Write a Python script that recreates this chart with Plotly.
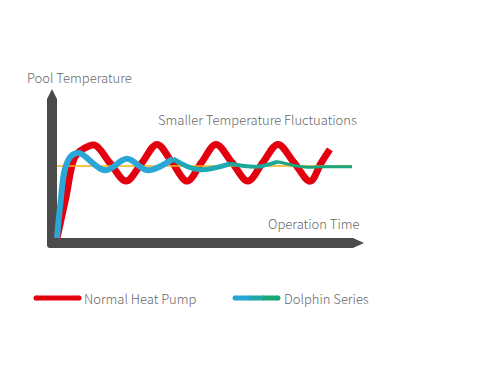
import plotly.graph_objects as go

# ---------------- data (time units vs temperature units) ----------------
normal_time = [0, 0.30, 0.61, 0.90, 1.28, 1.80, 2.34, 2.87, 3.39, 3.90, 4.41, 4.90,
               5.39, 5.93, 6.47, 6.98, 7.49, 8.03, 8.58, 8.95, 9.25]
normal_temp = [0, 5.6, 11.3, 12.4, 12.9, 10.4, 7.9, 10.4, 13.0, 10.5, 7.9, 10.5,
               13.0, 10.5, 7.9, 10.5, 13.0, 10.5, 7.9, 10.4, 12.3]

dolphin_time = [0, 0.12, 0.27, 0.48, 0.75, 1.63, 2.37, 3.08, 3.93, 4.78,
                5.86, 6.78, 7.49, 8.40, 9.02, 10.0]
dolphin_temp = [0, 5.0, 9.6, 11.4, 11.8, 9.4, 11.0, 9.4, 11.0, 9.5,
                10.3, 9.9, 10.6, 9.85, 9.9, 9.9]

setpoint_time = [0, 10]
setpoint_temp = [10, 10]

# segment boundaries (indices into dolphin arrays) for the blue->green gradient
segment_breaks = [0, 8, 10, 12, 15]
segment_colors = ["#2aa7d7", "#21a8b5", "#1ca798", "#1aa57d"]
segment_widths = [6, 5, 4, 3]

labels = {
    "y": "Pool Temperature",
    "x": "Operation Time",
    "note": "Smaller Temperature Fluctuations",
    "normal": "Normal Heat Pump",
    "dolphin": "Dolphin Series",
}

# ---------------- layout geometry ----------------
OFF = 8                      # default body margin of the html page
W, H = 500 - OFF, 375 - 2 * OFF
X0PX, XSCALE = 57, 29.5      # pixel of t=0, pixels per time unit
Y0PX, YSCALE = 238, 7.2      # pixel of T=0, pixels per temp unit


def tx(px):
    return (px - X0PX) / XSCALE


def ty(py):
    return (Y0PX - py) / YSCALE


FONT = "Noto Sans CJK SC"
TEXT_COLOR = "#676767"
RED = "#e3000f"
AXIS = "#4b4b4b"

fig = go.Figure()

fig.add_trace(go.Scatter(x=normal_time, y=normal_temp, mode="lines",
                         line=dict(color=RED, width=7, shape="spline", smoothing=1.0),
                         hoverinfo="skip", showlegend=False))
fig.add_trace(go.Scatter(x=setpoint_time, y=setpoint_temp, mode="lines",
                         line=dict(color="#f2b316", width=1.5),
                         hoverinfo="skip", showlegend=False))
for i in range(len(segment_colors)):
    a, b = segment_breaks[i], segment_breaks[i + 1]
    fig.add_trace(go.Scatter(x=dolphin_time[a:b + 1], y=dolphin_temp[a:b + 1], mode="lines",
                             line=dict(color=segment_colors[i], width=segment_widths[i],
                                       shape="spline", smoothing=1.0),
                             hoverinfo="skip", showlegend=False))

# axes with arrows drawn as one path
pts = [("M", 47, 99), ("L", 47, 245), ("Q", 47, 248, 50, 248), ("L", 353, 248), ("L", 364, 243),
       ("L", 353, 238), ("L", 57, 238), ("L", 57, 99), ("L", 52, 89)]
path = ""
for p in pts:
    if p[0] == "Q":
        path += f"Q{tx(p[1])},{ty(p[2])} {tx(p[3])},{ty(p[4])} "
    else:
        path += f"{p[0]}{tx(p[1])},{ty(p[2])} "
path += "Z"
shapes = [dict(type="path", path=path, xref="x", yref="y", fillcolor=AXIS,
               line=dict(width=0), layer="below")]

# legend swatches
def swatch(x1, x2, y, color, width=5):
    shapes.append(dict(type="line", xref="x", yref="y", x0=tx(x1), x1=tx(x2), y0=ty(y), y1=ty(y),
                       line=dict(color=color, width=width)))

swatch(36, 79, 298, RED)
swatch(235, 250, 298, "#29a6d6")
swatch(249, 264, 298, "#20a8a8")
swatch(263, 278, 298, "#1aa676")
for cx, col in [(36, RED), (79, RED), (235, "#29a6d6"), (278, "#1aa676")]:
    r = 2.5
    shapes.append(dict(type="circle", xref="x", yref="y", x0=tx(cx - r), x1=tx(cx + r),
                       y0=ty(298 + r), y1=ty(298 - r), fillcolor=col, line=dict(width=0)))

annotations = []
def label(text, px, py, size=13):
    annotations.append(dict(text=text, x=tx(px), y=ty(py), xref="x", yref="y",
                            xanchor="left", yanchor="middle", showarrow=False,
                            font=dict(family=FONT, size=size, color=TEXT_COLOR, weight=300)))

label(labels["y"], 25, 77)
label(labels["note"], 156, 119)
label(labels["x"], 266, 223)
label(labels["normal"], 82, 298)
label(labels["dolphin"], 282, 298)

fig.update_layout(
    width=W, height=H, autosize=False,
    margin=dict(l=0, r=0, t=0, b=0, pad=0),
    paper_bgcolor="white", plot_bgcolor="white",
    xaxis=dict(range=[tx(OFF), tx(500)], visible=False, fixedrange=True),
    yaxis=dict(range=[ty(375 - OFF), ty(OFF)], visible=False, fixedrange=True),
    shapes=shapes, annotations=annotations, showlegend=False, hovermode=False,
)

fig.write_html("out.html", config={"displayModeBar": False, "staticPlot": True})
